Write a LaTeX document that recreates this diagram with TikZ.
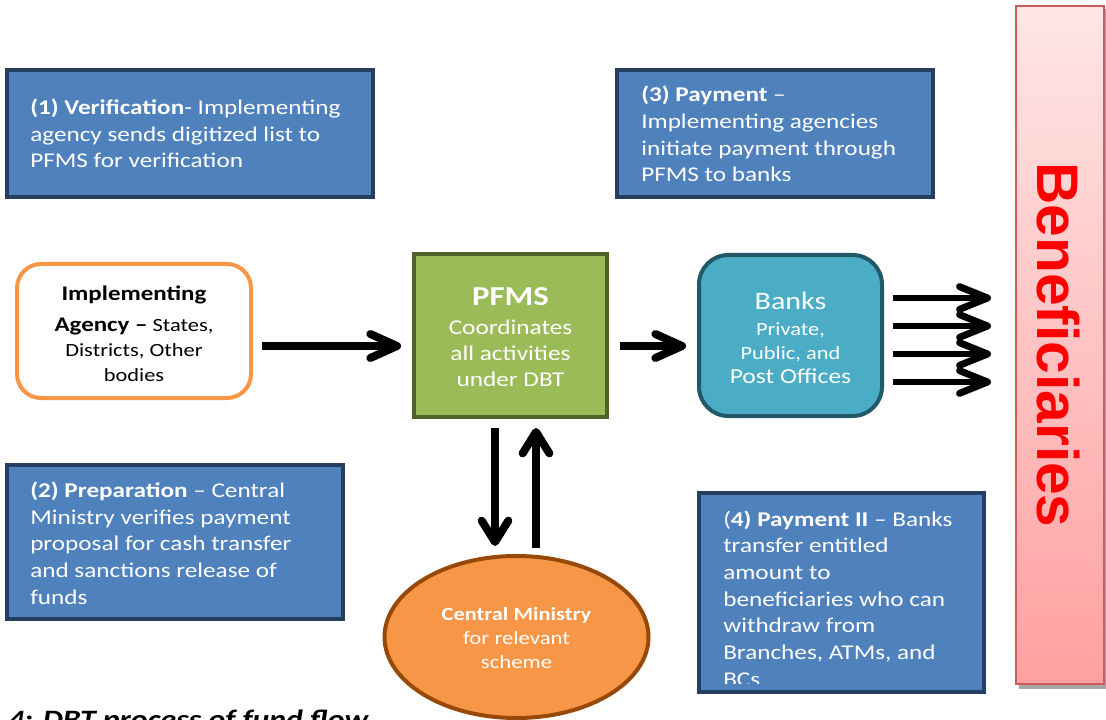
\documentclass[tikz,border=0pt]{standalone}
\usepackage{fontspec}
\setmainfont{Carlito}[FakeStretch=1.2]
\newfontfamily\arialfont{Liberation Sans}
\usetikzlibrary{arrows.meta,shapes.geometric}
\newdimen\pxu \pxu=0.75pt
\definecolor{boxblue}{HTML}{4F81BD}
\definecolor{boxedge}{HTML}{243F60}
\definecolor{iaorange}{HTML}{F79646}
\definecolor{pfmsgreen}{HTML}{9BBB59}
\definecolor{pfmsedge}{HTML}{4F6228}
\definecolor{bankteal}{HTML}{4BACC6}
\definecolor{bankedge}{HTML}{215968}
\definecolor{cmedge}{HTML}{984807}
\definecolor{bentop}{HTML}{FFE6E6}
\definecolor{benbot}{HTML}{FFA0A0}
\definecolor{benedge}{HTML}{D05A5A}
\tikzset{
  infobox/.style={draw=boxedge, fill=boxblue, line width=3pt, inner sep=0pt},
  infotext/.style={text=white, font=\fontsize{15.75}{20}\selectfont, align=left, anchor=base west, inner sep=0pt},
  fatarrow/.style={line width=6pt, -{Straight Barb[length=20pt, width=18pt, round]}},
  vertarrow/.style={line width=6pt, -{Straight Barb[length=16pt, width=20pt, round]}},
  thinarrow/.style={line width=5.2pt, -{Straight Barb[length=21pt, width=17pt, round]}},
}
\begin{document}
\begin{tikzpicture}[x=0.75pt, y=-0.75pt]
\useasboundingbox (0,0) rectangle (1106,720);
\clip (0,0) rectangle (1106,720);

% info boxes (text node anchored at baseline of its last line)
\node[infobox, minimum width=366\pxu, minimum height=127\pxu] (b1) at (190,133.5) {};
\node[infotext] (t1) at (30,168) {\textbf{(1) Verification}- Implementing\\agency sends digitized list to\\PFMS for verification};

\node[infobox, minimum width=316\pxu, minimum height=127\pxu] (b3) at (775,133.5) {};
\node[infotext] (t3) at (641,182) {\textbf{(3) Payment} --\\Implementing agencies\\initiate payment through\\PFMS to banks};

\node[infobox, minimum width=336\pxu, minimum height=154\pxu] (b2) at (175,542) {};
\node[infotext] (t2) at (30,604) {\textbf{(2) Preparation} -- Central\\Ministry verifies payment\\proposal for cash transfer\\and sanctions release of\\funds};

\node[infobox, minimum width=285\pxu, minimum height=199\pxu] (b4) at (841.5,592.5) {};
\begin{scope}
\clip (701,495) rectangle (982,683);
\node[infotext] (t4) at (723,686) {(\textbf{4) Payment II} -- Banks\\transfer entitled\\amount to\\beneficiaries who can\\withdraw from\\Branches, ATMs, and\\BCs};
\end{scope}

% implementing agency
\node[draw=iaorange, fill=white, line width=3pt, rounded corners=18pt,
      minimum width=234\pxu, minimum height=134\pxu] (ia) at (134,331) {};
\node[align=center, inner sep=0pt, anchor=base, font=\fontsize{14}{18.4}\selectfont] (iat) at (134,381)
  {{\fontsize{15.6}{18}\selectfont\textbf{Implementing}}\\[5pt]{\fontsize{15.6}{18}\selectfont\textbf{Agency --}} States,\\Districts, Other\\bodies};

% PFMS
\node[draw=pfmsedge, fill=pfmsgreen, line width=3pt,
      minimum width=193\pxu, minimum height=163\pxu] (pfms) at (510.5,335.5) {};
\node[align=center, inner sep=0pt, anchor=base, text=white, font=\fontsize{15.8}{19.5}\selectfont] (pfmst) at (510.5,386)
  {{\fontsize{20.5}{20}\selectfont\textbf{PFMS}}\\[2pt]Coordinates\\all activities\\under DBT};

% Banks
\node[draw=bankedge, fill=bankteal, line width=3pt, rounded corners=22pt,
      minimum width=183\pxu, minimum height=161\pxu] (banks) at (790.5,335.5) {};
\node[align=center, inner sep=0pt, anchor=base, text=white, font=\fontsize{14}{17.8}\selectfont] (bankst) at (790.5,383)
  {{\fontsize{18.8}{20}\selectfont Banks}\\[1.5pt]Private,\\Public, and\\{\fontsize{16}{18}\selectfont Post Offices}};

% Central ministry
\node[ellipse, draw=cmedge, fill=iaorange, line width=3pt,
      minimum width=264\pxu, minimum height=162\pxu] (cm) at (516.5,637) {};
\node[align=center, inner sep=0pt, anchor=base, text=white, font=\fontsize{14.2}{18}\selectfont] (cmt) at (516.5,668)
  {{\fontsize{14}{18}\selectfont\textbf{Central Ministry}}\\for relevant\\scheme};

% Beneficiaries
\fill[black!35] (1019,9) rectangle (1108,689);
\node[draw=benedge, line width=1.5pt, top color=bentop, bottom color=benbot,
      minimum width=88\pxu, minimum height=678\pxu] (ben) at (1060,345) {};
\node[rotate=-90, text=red, inner sep=0pt, font=\arialfont\bfseries\fontsize{44}{44}\selectfont] (bent) at (1058,345) {Beneficiaries};

% arrows
\draw[fatarrow, shorten <=9\pxu, shorten >=11\pxu] (ia.east |- 0,346) -- (pfms.west |- 0,346);
\draw[fatarrow, shorten <=11\pxu, shorten >=11\pxu] (pfms.east |- 0,346) -- (banks.west |- 0,346);
\foreach \yy in {298,326,354,382}{
  \draw[thinarrow, shorten <=9\pxu, shorten >=24\pxu] (banks.east |- 0,\yy) -- (ben.west |- 0,\yy);
}
\coordinate (dnend) at (495,546);
\coordinate (upstart) at (536,548);
\draw[vertarrow, shorten <=9\pxu] (pfms.south -| dnend) -- (dnend);
\draw[vertarrow, shorten >=9\pxu] (upstart) -- (pfms.south -| upstart);

% caption
\node[anchor=base west, inner sep=0pt, font=\fontsize{19.9}{20}\selectfont\bfseries\itshape] (cap) at (8,728) {4: DBT process of fund flow};
\end{tikzpicture}
\end{document}
